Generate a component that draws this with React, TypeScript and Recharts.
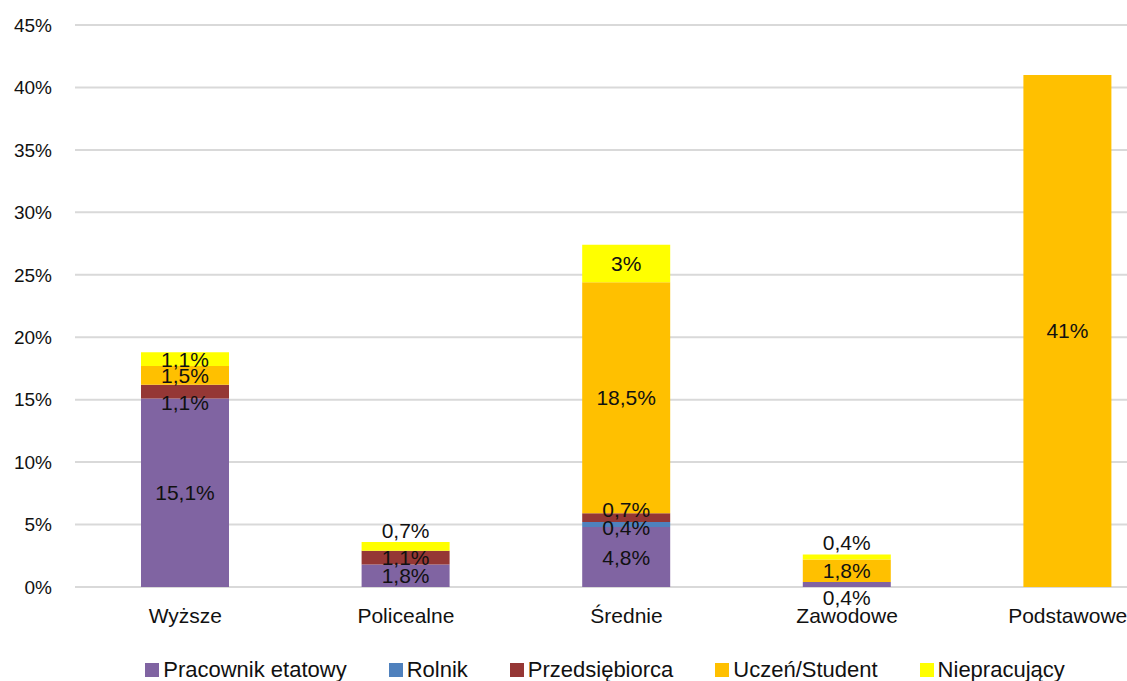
import React from 'react';
import { BarChart, Bar, XAxis, YAxis, CartesianGrid, Legend, LabelList } from 'recharts';

// Education level groups
const categories = ['Wyższe', 'Policealne', 'Średnie', 'Zawodowe', 'Podstawowe'];

// Share of respondents per occupation status (%)
const pracownikEtatowy = [15.1, 1.8, 4.8, 0.4, 0];
const rolnik = [0, 0, 0.4, 0, 0];
const przedsiebiorca = [1.1, 1.1, 0.7, 0, 0];
const uczenStudent = [1.5, 0, 18.5, 1.8, 41];
const niepracujacy = [1.1, 0.7, 3, 0.4, 0];

const yTicks = [0, 5, 10, 15, 20, 25, 30, 35, 40, 45];

const series = [
  { key: 'pracownik', name: 'Pracownik etatowy', color: '#8064A2', values: pracownikEtatowy },
  { key: 'rolnik', name: 'Rolnik', color: '#4F81BD', values: rolnik },
  { key: 'przedsiebiorca', name: 'Przedsiębiorca', color: '#953735', values: przedsiebiorca },
  { key: 'uczen', name: 'Uczeń/Student', color: '#FFC000', values: uczenStudent },
  { key: 'niepracujacy', name: 'Niepracujący', color: '#FFFF00', values: niepracujacy },
];

const data = categories.map((name, i) => {
  const row: Record<string, string | number> = { name };
  series.forEach((s) => {
    row[s.key] = s.values[i];
  });
  return row;
});

const FONT = '"Liberation Sans", Arial, sans-serif';
const pct = (v: number) => `${String(v).replace('.', ',')}%`;

// Small segments get their label pushed out of the way so the stack stays readable
const makeLabel = (seriesKey: string) => (props: any) => {
  const { x, y, width, height, value, index } = props;
  if (!value) return null;
  const cx = Number(x) + Number(width) / 2;
  let cy = Number(y) + Number(height) / 2;
  const h = Math.abs(Number(height));
  if (seriesKey === 'niepracujacy' && h < 12) cy = Number(y) - 12;
  if (seriesKey === 'pracownik' && h < 10) cy = Number(y) + h + 10;
  if (seriesKey === 'przedsiebiorca' && h < 10) cy -= 8;
  if (seriesKey === 'przedsiebiorca' && h >= 10 && h < 16 && uczenStudent[index] > 0) cy += 11;
  if (seriesKey === 'rolnik' && h < 10) cy += 3;
  return (
    <text x={cx} y={cy} textAnchor="middle" dominantBaseline="central" fill="#111" fontSize={21} fontFamily={FONT}>
      {pct(value)}
    </text>
  );
};

const LegendContent = () => (
  <div
    style={{
      display: 'flex',
      justifyContent: 'center',
      alignItems: 'center',
      gap: 42,
      fontFamily: FONT,
      fontSize: 22,
      color: '#111',
      height: 28,
    }}
  >
    {series.map((s) => (
      <div key={s.key} style={{ display: 'flex', alignItems: 'center' }}>
        <span style={{ display: 'inline-block', width: 14, height: 14, background: s.color, marginRight: 4 }} />
        <span>{s.name}</span>
      </div>
    ))}
  </div>
);

export default function App() {
  return (
    <div style={{ position: 'fixed', left: 0, top: 0, width: 1127, height: 681, overflow: 'hidden', background: '#fff' }}>
      <BarChart
        width={1190}
        height={700}
        data={data}
        margin={{ top: 25, right: 12, left: 0, bottom: 45 }}
        barSize={88}
        style={{ fontFamily: FONT }}
      >
        <CartesianGrid vertical={false} stroke="#D9D9D9" strokeWidth={2} />
        <XAxis
          dataKey="name"
          height={40}
          axisLine={false}
          tickLine={false}
          tickMargin={15}
          tick={{ fill: '#111', fontSize: 21 }}
        />
        <YAxis
          width={75}
          domain={[0, 45]}
          ticks={yTicks}
          tickFormatter={(v: number) => `${v}%`}
          axisLine={false}
          tickLine={false}
          tickMargin={17}
          tick={{ fill: '#111', fontSize: 19 }}
          interval={0}
        />
        <Legend
          verticalAlign="bottom"
          content={<LegendContent />}
          wrapperStyle={{ top: 656, bottom: 'auto', left: 0, width: 1210 }}
        />
        {series.map((s) => (
          <Bar key={s.key} dataKey={s.key} name={s.name} stackId="a" fill={s.color} isAnimationActive={false}>
            <LabelList dataKey={s.key} content={makeLabel(s.key)} />
          </Bar>
        ))}
      </BarChart>
    </div>
  );
}
